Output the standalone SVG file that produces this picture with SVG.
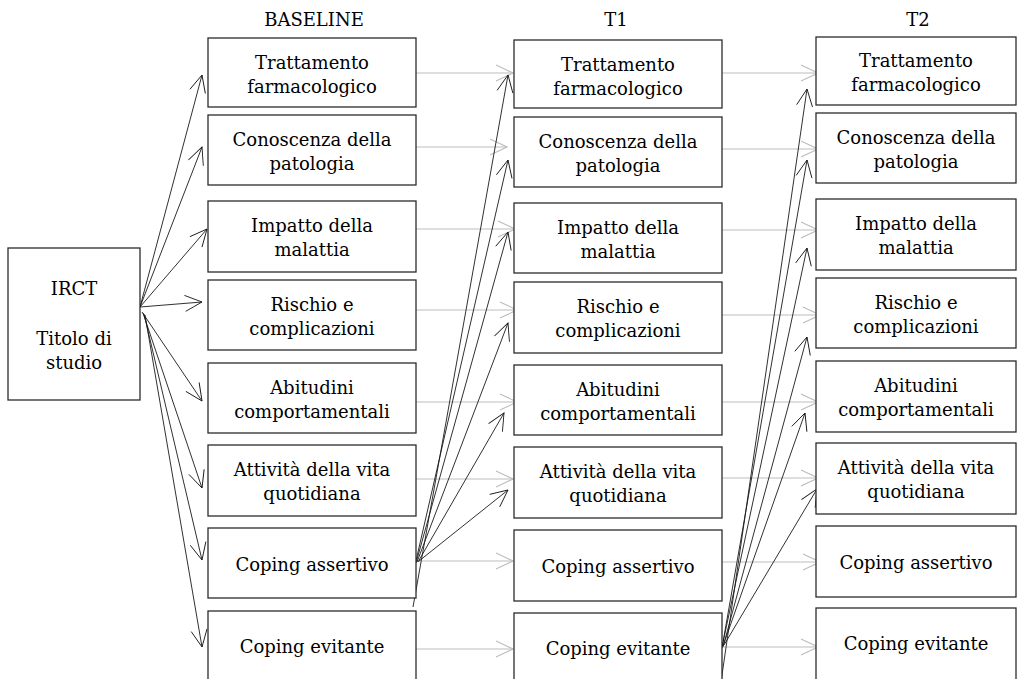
<svg xmlns="http://www.w3.org/2000/svg" width="1019" height="679" viewBox="0 0 1019 679">
  <style>
    .box { fill: #ffffff; stroke: #2b2b2b; stroke-width: 1.3; }
    .lbl { font-family: "DejaVu Serif", "Liberation Serif", serif; font-size: 18px; fill: #000000; text-anchor: middle; }
    .hdr { font-family: "DejaVu Serif", "Liberation Serif", serif; font-size: 18px; fill: #000000; text-anchor: middle; }
    .dark { stroke: #1a1a1a; stroke-width: 0.9; fill: none; marker-end: url(#openDark); }
    .light { stroke: #bdbdbd; stroke-width: 1.1; fill: none; marker-end: url(#openLight); }
  </style>
  <defs>
    <marker id="openDark" markerUnits="userSpaceOnUse" viewBox="-19 -10 20 20" markerWidth="20" markerHeight="20" refX="0" refY="0" orient="auto">
      <path d="M-17,-8 L0,0 L-17,8" fill="none" stroke="#1a1a1a" stroke-width="0.9"/>
    </marker>
    <marker id="openLight" markerUnits="userSpaceOnUse" viewBox="-19 -10 20 20" markerWidth="20" markerHeight="20" refX="0" refY="0" orient="auto">
      <path d="M-17,-8 L0,0 L-17,8" fill="none" stroke="#bdbdbd" stroke-width="1.1"/>
    </marker>
  </defs>

  <rect width="1019" height="679" fill="#ffffff"/>

  <!-- column headers -->
  <g id="headers">
    <text class="hdr" x="314" y="26">BASELINE</text>
    <text class="hdr" x="616" y="26">T1</text>
    <text class="hdr" x="918" y="26">T2</text>
  </g>

  <!-- connectors -->
  <g id="connectors">
    <!-- IRCT to baseline measures -->
    <line class="dark" x1="140" y1="307" x2="202" y2="75"/>
    <line class="dark" x1="140" y1="307" x2="202" y2="147"/>
    <line class="dark" x1="140" y1="307" x2="207" y2="229"/>
    <line class="dark" x1="140" y1="307" x2="202" y2="302"/>
    <line class="dark" x1="142" y1="312" x2="202" y2="401"/>
    <line class="dark" x1="143" y1="313" x2="202" y2="488"/>
    <line class="dark" x1="144" y1="314" x2="202" y2="560"/>
    <line class="dark" x1="145" y1="315" x2="202" y2="647"/>

    <!-- baseline to T1, same measure -->
    <line class="light" x1="416" y1="73" x2="513" y2="73"/>
    <line class="light" x1="416" y1="147" x2="507" y2="147"/>
    <line class="light" x1="416" y1="229" x2="515" y2="229"/>
    <line class="light" x1="416" y1="310" x2="517" y2="310"/>
    <line class="light" x1="416" y1="402" x2="517" y2="402"/>
    <line class="light" x1="416" y1="479" x2="513" y2="479"/>
    <line class="light" x1="416" y1="561" x2="513" y2="561"/>
    <line class="light" x1="416" y1="649" x2="513" y2="649"/>

    <!-- baseline Coping assertivo to T1 measures -->
    <line class="dark" x1="413" y1="607" x2="508" y2="75"/>
    <line class="dark" x1="415" y1="565" x2="508" y2="160"/>
    <line class="dark" x1="416" y1="563" x2="508" y2="232"/>
    <line class="dark" x1="417" y1="562" x2="508" y2="323"/>
    <line class="dark" x1="418" y1="562" x2="504" y2="413"/>
    <line class="dark" x1="419" y1="561" x2="508" y2="490"/>

    <!-- T1 to T2, same measure -->
    <line class="light" x1="722" y1="73" x2="818" y2="73"/>
    <line class="light" x1="722" y1="149" x2="818" y2="149"/>
    <line class="light" x1="722" y1="230" x2="818" y2="230"/>
    <line class="light" x1="722" y1="315" x2="820" y2="315"/>
    <line class="light" x1="722" y1="402" x2="818" y2="402"/>
    <line class="light" x1="722" y1="478" x2="818" y2="478"/>
    <line class="light" x1="722" y1="562" x2="820" y2="562"/>
    <line class="light" x1="722" y1="647" x2="818" y2="647"/>

    <!-- T1 Coping evitante to T2 measures -->
    <line class="dark" x1="721" y1="682" x2="807" y2="89"/>
    <line class="dark" x1="722" y1="648" x2="807" y2="160"/>
    <line class="dark" x1="722" y1="647" x2="807" y2="248"/>
    <line class="dark" x1="723" y1="647" x2="807" y2="337"/>
    <line class="dark" x1="723" y1="646" x2="805" y2="413"/>
    <line class="dark" x1="724" y1="645" x2="817" y2="489"/>
  </g>

  <!-- study node -->
  <g id="irct">
    <rect class="box" x="8" y="248" width="132" height="152"/>
    <text class="lbl" x="74" y="295">IRCT</text>
    <text class="lbl" x="74" y="345">Titolo di</text>
    <text class="lbl" x="74" y="369">studio</text>
  </g>

  <!-- BASELINE column -->
  <g id="b-trattamento">
    <rect class="box" x="208" y="38" width="208" height="69"/>
    <text class="lbl" x="312" y="69">Trattamento</text>
    <text class="lbl" x="312" y="93">farmacologico</text>
  </g>
  <g id="b-conoscenza">
    <rect class="box" x="208" y="115" width="208" height="70"/>
    <text class="lbl" x="312" y="146">Conoscenza della</text>
    <text class="lbl" x="312" y="170">patologia</text>
  </g>
  <g id="b-impatto">
    <rect class="box" x="208" y="201" width="208" height="71"/>
    <text class="lbl" x="312" y="232">Impatto della</text>
    <text class="lbl" x="312" y="256">malattia</text>
  </g>
  <g id="b-rischio">
    <rect class="box" x="208" y="280" width="208" height="70"/>
    <text class="lbl" x="312" y="311">Rischio e</text>
    <text class="lbl" x="312" y="335">complicazioni</text>
  </g>
  <g id="b-abitudini">
    <rect class="box" x="208" y="363" width="208" height="70"/>
    <text class="lbl" x="312" y="394">Abitudini</text>
    <text class="lbl" x="312" y="418">comportamentali</text>
  </g>
  <g id="b-attivita">
    <rect class="box" x="208" y="445" width="208" height="71"/>
    <text class="lbl" x="312" y="476">Attività della vita</text>
    <text class="lbl" x="312" y="500">quotidiana</text>
  </g>
  <g id="b-coping-assertivo">
    <rect class="box" x="208" y="528" width="208" height="70"/>
    <text class="lbl" x="312" y="571">Coping assertivo</text>
  </g>
  <g id="b-coping-evitante">
    <rect class="box" x="208" y="611" width="208" height="80"/>
    <text class="lbl" x="312" y="653">Coping evitante</text>
  </g>

  <!-- T1 column -->
  <g id="t1-trattamento">
    <rect class="box" x="514" y="40" width="208" height="68"/>
    <text class="lbl" x="618" y="71">Trattamento</text>
    <text class="lbl" x="618" y="95">farmacologico</text>
  </g>
  <g id="t1-conoscenza">
    <rect class="box" x="514" y="117" width="208" height="70"/>
    <text class="lbl" x="618" y="148">Conoscenza della</text>
    <text class="lbl" x="618" y="172">patologia</text>
  </g>
  <g id="t1-impatto">
    <rect class="box" x="514" y="203" width="208" height="70"/>
    <text class="lbl" x="618" y="234">Impatto della</text>
    <text class="lbl" x="618" y="258">malattia</text>
  </g>
  <g id="t1-rischio">
    <rect class="box" x="514" y="282" width="208" height="71"/>
    <text class="lbl" x="618" y="313">Rischio e</text>
    <text class="lbl" x="618" y="337">complicazioni</text>
  </g>
  <g id="t1-abitudini">
    <rect class="box" x="514" y="365" width="208" height="70"/>
    <text class="lbl" x="618" y="396">Abitudini</text>
    <text class="lbl" x="618" y="420">comportamentali</text>
  </g>
  <g id="t1-attivita">
    <rect class="box" x="514" y="447" width="208" height="71"/>
    <text class="lbl" x="618" y="478">Attività della vita</text>
    <text class="lbl" x="618" y="502">quotidiana</text>
  </g>
  <g id="t1-coping-assertivo">
    <rect class="box" x="514" y="530" width="208" height="71"/>
    <text class="lbl" x="618" y="573">Coping assertivo</text>
  </g>
  <g id="t1-coping-evitante">
    <rect class="box" x="514" y="613" width="208" height="80"/>
    <text class="lbl" x="618" y="655">Coping evitante</text>
  </g>

  <!-- T2 column -->
  <g id="t2-trattamento">
    <rect class="box" x="816" y="37" width="200" height="68"/>
    <text class="lbl" x="916" y="67">Trattamento</text>
    <text class="lbl" x="916" y="91">farmacologico</text>
  </g>
  <g id="t2-conoscenza">
    <rect class="box" x="816" y="113" width="200" height="70"/>
    <text class="lbl" x="916" y="144">Conoscenza della</text>
    <text class="lbl" x="916" y="168">patologia</text>
  </g>
  <g id="t2-impatto">
    <rect class="box" x="816" y="199" width="200" height="71"/>
    <text class="lbl" x="916" y="230">Impatto della</text>
    <text class="lbl" x="916" y="254">malattia</text>
  </g>
  <g id="t2-rischio">
    <rect class="box" x="816" y="278" width="200" height="70"/>
    <text class="lbl" x="916" y="309">Rischio e</text>
    <text class="lbl" x="916" y="333">complicazioni</text>
  </g>
  <g id="t2-abitudini">
    <rect class="box" x="816" y="361" width="200" height="71"/>
    <text class="lbl" x="916" y="392">Abitudini</text>
    <text class="lbl" x="916" y="416">comportamentali</text>
  </g>
  <g id="t2-attivita">
    <rect class="box" x="816" y="443" width="200" height="71"/>
    <text class="lbl" x="916" y="474">Attività della vita</text>
    <text class="lbl" x="916" y="498">quotidiana</text>
  </g>
  <g id="t2-coping-assertivo">
    <rect class="box" x="816" y="526" width="200" height="71"/>
    <text class="lbl" x="916" y="569">Coping assertivo</text>
  </g>
  <g id="t2-coping-evitante">
    <rect class="box" x="816" y="608" width="200" height="85"/>
    <text class="lbl" x="916" y="650">Coping evitante</text>
  </g>
</svg>
